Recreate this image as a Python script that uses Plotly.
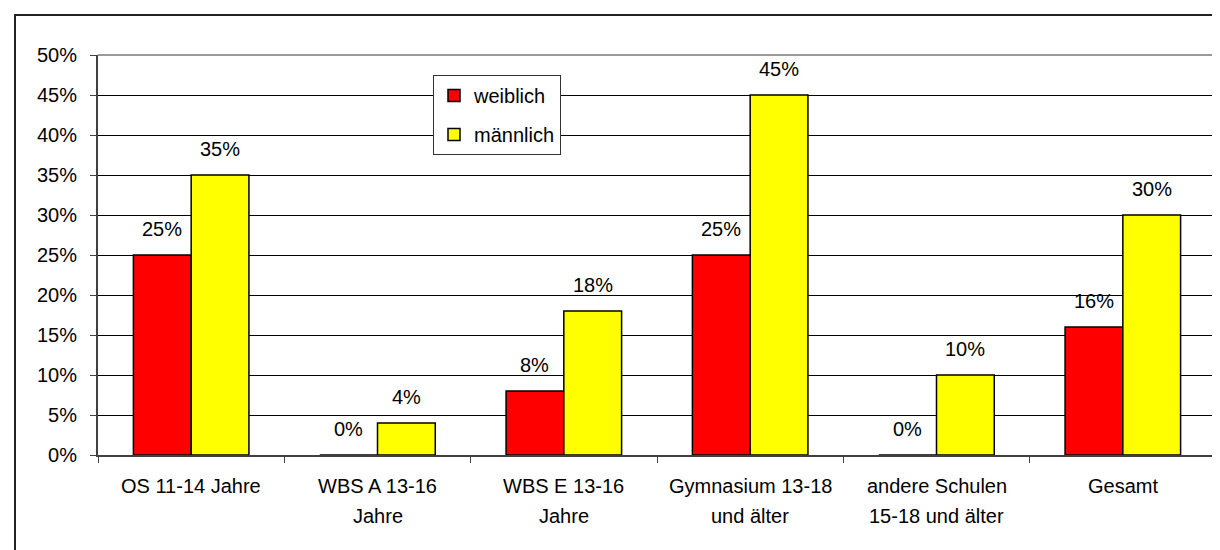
import plotly.graph_objects as go

categories = [
    "OS 11-14 Jahre",
    "WBS A 13-16<br>Jahre",
    "WBS E 13-16<br>Jahre",
    "Gymnasium 13-18<br>und älter",
    "andere Schulen<br>15-18 und älter",
    "Gesamt",
]
weiblich = [25, 0, 8, 25, 0, 16]
maennlich = [35, 4, 18, 45, 10, 30]
series_names = ["weiblich", "männlich"]
y_ticks = [0, 5, 10, 15, 20, 25, 30, 35, 40, 45, 50]

FONT = "Liberation Sans, Arial, sans-serif"
FS = 20
BARGAP = 0.38
half = (1 - BARGAP) / 4  # offset of each bar center from category center

fig = go.Figure()
fig.add_trace(go.Bar(
    x=categories, y=weiblich, name=series_names[0], legendgroup="w",
    marker=dict(color="#FF0000", line=dict(color="black", width=1.5)),
))
fig.add_trace(go.Bar(
    x=categories, y=maennlich, name=series_names[1], legendgroup="m",
    marker=dict(color="#FFFF00", line=dict(color="black", width=1.5)),
))

annotations = []
# value labels above bars
for i, (w, m) in enumerate(zip(weiblich, maennlich)):
    for off, v in ((-half, w), (half, m)):
        annotations.append(dict(
            x=i + off, y=v, xref="x", yref="y", text=f"{v}%",
            showarrow=False, yanchor="middle", yshift=26,
            font=dict(family=FONT, size=FS, color="black"),
        ))
# category labels (one annotation per line for Excel-like line spacing)
for i, cat in enumerate(categories):
    for k, line in enumerate(cat.split("<br>")):
        annotations.append(dict(
            x=i, y=0, xref="x", yref="y", text=line,
            showarrow=False, yanchor="middle", xanchor="center",
            yshift=-(31 + 30 * k),
            font=dict(family=FONT, size=FS, color="black"),
        ))

L, R, T, B = 90, 12, 47, 103
W, H = 1220, 550
pw, ph = W - L - R, H - T - B

shapes = [
    # outer chart border (right/bottom fall outside the picture)
    dict(type="rect", xref="paper", yref="paper",
         x0=(7 - L) / pw, x1=(W + 20 - L) / pw,
         y0=-(H + 20 - T - ph) / ph, y1=(H - B - 7) / ph,
         line=dict(color="#222222", width=2), layer="below"),
    # plot area top and right border (gray)
    dict(type="line", xref="paper", yref="paper", x0=0, x1=1, y0=1, y1=1,
         line=dict(color="#999999", width=2), layer="above"),
    dict(type="line", xref="paper", yref="paper", x0=1, x1=1, y0=0, y1=1,
         line=dict(color="#999999", width=2), layer="above"),
]

fig.update_layout(
    width=W, height=H,
    margin=dict(l=L, r=R, t=T, b=B, pad=0),
    paper_bgcolor="white", plot_bgcolor="white",
    barmode="group", bargap=BARGAP, bargroupgap=0,
    font=dict(family=FONT, size=FS, color="black"),
    annotations=annotations,
    shapes=shapes,
    legend=dict(
        x=(425 - L) / pw, y=(H - B - 67) / ph, xanchor="left", yanchor="top",
        bgcolor="white", bordercolor="#333333", borderwidth=1,
        font=dict(family=FONT, size=FS, color="black"),
        tracegroupgap=10,
    ),
    showlegend=True,
)
fig.update_xaxes(
    type="category", showgrid=False, showline=True, linecolor="#404040", linewidth=2,
    ticks="outside", tickson="boundaries", ticklen=6, tickcolor="#404040", tickwidth=1,
    showticklabels=False,
)
fig.update_yaxes(
    range=[0, 50], tickvals=y_ticks, ticktext=[f"{v}%" for v in y_ticks],
    showgrid=True, gridcolor="black", gridwidth=1,
    showline=True, linecolor="#404040", linewidth=2,
    ticks="outside", ticklen=6, tickcolor="#404040", tickwidth=1,
    tickfont=dict(family=FONT, size=FS, color="black"),
    ticklabelstandoff=9, zeroline=False,
)

fig.write_html("out.html")
